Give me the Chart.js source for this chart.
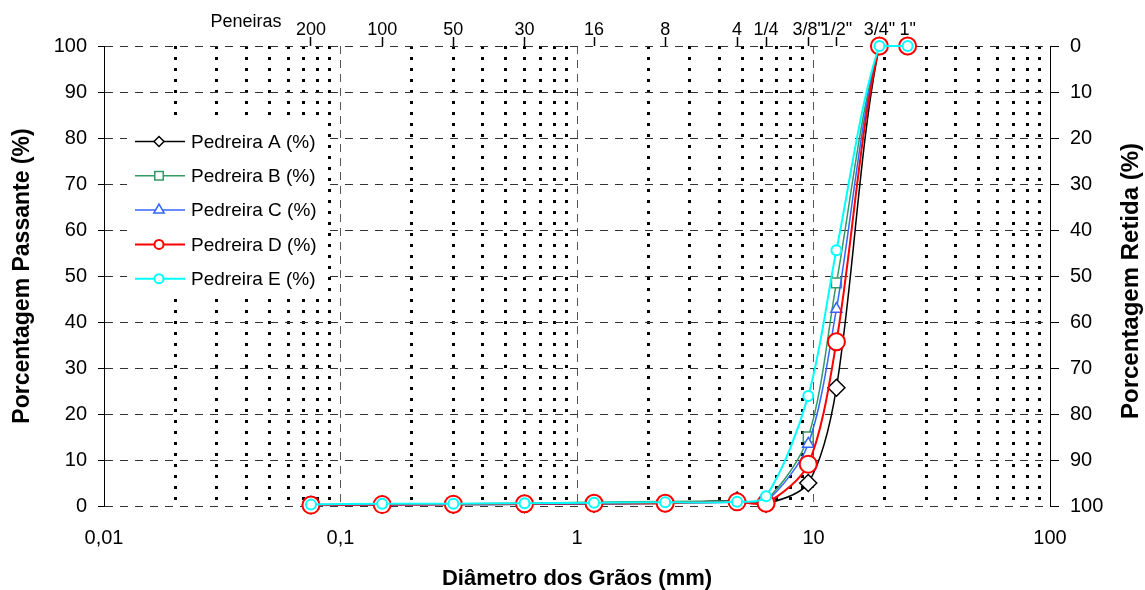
<!DOCTYPE html>
<html>
<head>
<meta charset="utf-8">
<title>Curva granulométrica</title>
<script src="https://cdn.jsdelivr.net/npm/chart.js@4.4.1/dist/chart.umd.min.js"></script>
<style>
  html, body { margin: 0; padding: 0; background: #fff; }
</style>
</head>
<body>
<canvas id="granChart" width="1145" height="590"></canvas>
<script>
// Peneiras (mm) e seus nomes
const sieveSizes = [0.075, 0.15, 0.3, 0.6, 1.18, 2.36, 4.75, 6.3, 9.5, 12.5, 19, 25];
const sieveLabels = ['200', '100', '50', '30', '16', '8', '4', '1/4', '3/8"', '1/2"', '3/4"', '1"'];

// eixo x (log)
const majorTicks = [0.01, 0.1, 1, 10, 100];
const majorLabels = ['0,01', '0,1', '1', '10', '100'];
const minorTicks = [0.02, 0.03, 0.04, 0.05, 0.06, 0.07, 0.08, 0.09,
                    0.2, 0.3, 0.4, 0.5, 0.6, 0.7, 0.8, 0.9,
                    2, 3, 4, 5, 6, 7, 8, 9,
                    20, 30, 40, 50, 60, 70, 80, 90];

// % passante
const pedreiraA = [0.2, 0.3, 0.3, 0.4, 0.5, 0.6, 1.2, 0.5, 5.0, 25.7, 100, 100];
const pedreiraB = [0.3, 0.4, 0.5, 0.6, 0.8, 1.0, 1.1, 1.3, 15.0, 48.5, 100, 100];
const pedreiraC = [0.1, 0.2, 0.3, 0.4, 0.5, 0.6, 0.8, 1.0, 13.5, 42.8, 100, 100];
const pedreiraD = [0.2, 0.3, 0.4, 0.5, 0.6, 0.6, 0.9, 0.6, 9.1, 35.7, 100, 100];
const pedreiraE = [0.3, 0.5, 0.5, 0.6, 0.7, 0.8, 0.9, 2.1, 23.9, 55.6, 100, 100];

const seriesNames = ['Pedreira A (%)', 'Pedreira B (%)', 'Pedreira C (%)', 'Pedreira D (%)', 'Pedreira E (%)'];

Chart.defaults.font.family = "'Liberation Sans', Arial, sans-serif";
Chart.defaults.color = '#000';

function serie(label, values, color, style, radius, width, order) {
  return {
    label: label,
    data: sieveSizes.map((x, i) => ({ x: x, y: values[i] })),
    borderColor: color,
    backgroundColor: '#fff',
    borderWidth: width,
    pointStyle: style,
    pointRadius: radius,
    pointHoverRadius: radius,
    pointBorderColor: color,
    pointBackgroundColor: '#fff',
    pointBorderWidth: width,
    tension: 0.3,
    clip: false,
    order: order,
    xAxisID: 'x',
    yAxisID: 'y'
  };
}

const datasets = [
  serie(seriesNames[0], pedreiraA, '#000000', 'rectRot', 8.5, 1.5, 5),
  serie(seriesNames[1], pedreiraB, '#339966', 'rect', 7, 1.5, 4),
  serie(seriesNames[2], pedreiraC, '#3366ff', 'triangle', 6.5, 1.5, 3),
  serie(seriesNames[3], pedreiraD, '#ff0000', 'circle', 8.5, 2, 2),
  serie(seriesNames[4], pedreiraE, '#00ffff', 'circle', 5, 2, 1)
];

// legenda, "Peneiras" e titulo do eixo da direita
const extraText = {
  id: 'extraText',
  afterDraw(chart) {
    const ctx = chart.ctx;
    ctx.save();

    // caixa branca da legenda (cobre a grade, como no Excel)
    ctx.fillStyle = '#fff';
    ctx.fillRect(127, 122, 201, 174);

    ctx.textBaseline = 'middle';
    const legendSizes = [5, 6, 6, 4.5, 4.5];
    datasets.forEach((ds, i) => {
      const y = 141.5 + i * 34.3;
      ctx.setLineDash([]);
      ctx.strokeStyle = ds.borderColor;
      ctx.lineWidth = ds.borderWidth;
      ctx.beginPath();
      ctx.moveTo(135, y);
      ctx.lineTo(185, y);
      ctx.stroke();
      ctx.fillStyle = '#fff';
      Chart.helpers.drawPoint(ctx, {
        pointStyle: ds.pointStyle, radius: legendSizes[i], rotation: 0, borderWidth: ds.borderWidth
      }, 159, y);
      ctx.fillStyle = '#000';
      ctx.font = "19px 'Liberation Sans', Arial, sans-serif";
      ctx.textAlign = 'left';
      ctx.fillText(ds.label, 191, y + 1);
    });

    // rotulo das peneiras
    ctx.font = "18px 'Liberation Sans', Arial, sans-serif";
    ctx.textAlign = 'center';
    ctx.fillText('Peneiras', 246, 22);

    // eixo secundario
    ctx.translate(1131, 281);
    ctx.rotate(-Math.PI / 2);
    ctx.font = "bold 24px 'Liberation Sans', Arial, sans-serif";
    ctx.fillText('Porcentagem Retida (%)', 0, 0);
    ctx.restore();
  }
};

new Chart(document.getElementById('granChart'), {
  type: 'line',
  data: { datasets: datasets },
  options: {
    responsive: false,
    animation: false,
    layout: { padding: 0 },
    plugins: {
      legend: { display: false },
      tooltip: { enabled: false }
    },
    scales: {
      x: {
        type: 'logarithmic',
        position: 'bottom',
        min: 0.01,
        max: 100,
        afterBuildTicks: (s) => { s.ticks = majorTicks.map(v => ({ value: v })); },
        afterFit: (s) => { s.height = 84; },
        ticks: {
          autoSkip: false,
          maxRotation: 0,
          padding: 20,
          font: { size: 20 },
          callback: (v, i) => majorLabels[i]
        },
        grid: { color: '#555', lineWidth: 1, drawTicks: false },
        border: { display: false, dash: [8, 6] },
        title: {
          display: true,
          text: 'Diâmetro dos Grãos (mm)',
          font: { size: 22, weight: 'bold', lineHeight: 1 },
          padding: 0
        }
      },
      xMinor: {
        type: 'logarithmic',
        position: 'bottom',
        min: 0.01,
        max: 100,
        afterBuildTicks: (s) => { s.ticks = minorTicks.map(v => ({ value: v })); },
        afterFit: (s) => { s.height = 0; },
        ticks: { display: false },
        grid: { color: '#000', lineWidth: 3, drawTicks: false },
        border: { display: false, dash: [3, 8] }
      },
      xTop: {
        type: 'logarithmic',
        position: 'top',
        min: 0.01,
        max: 100,
        afterBuildTicks: (s) => { s.ticks = sieveSizes.map(v => ({ value: v })); },
        afterFit: (s) => { s.height = 46; },
        ticks: {
          autoSkip: false,
          maxRotation: 0,
          minRotation: 0,
          padding: -4,
          font: { size: 18 },
          callback: (v, i) => sieveLabels[i]
        },
        grid: { drawOnChartArea: false, tickLength: 9, tickColor: '#000', tickWidth: 1.5 },
        border: { display: false }
      },
      y: {
        position: 'left',
        min: 0,
        max: 100,
        afterFit: (s) => { s.width = 104; },
        ticks: { stepSize: 10, padding: 11, font: { size: 20 } },
        grid: { color: '#333', lineWidth: 1, tickLength: 6, tickColor: '#000', tickBorderDash: [] },
        border: { display: true, color: '#000', width: 1, dash: [8, 7] },
        title: {
          display: true,
          text: 'Porcentagem Passante (%)',
          font: { size: 23, weight: 'bold', lineHeight: 1.2 },
          padding: { top: 9, bottom: 0 }
        }
      },
      y2: {
        position: 'right',
        min: 0,
        max: 100,
        reverse: true,
        afterFit: (s) => { s.width = 95; },
        ticks: { stepSize: 10, padding: 11, font: { size: 20 } },
        grid: { drawOnChartArea: false, tickLength: 9, tickColor: '#000' },
        border: { display: true, color: '#000', width: 1 }
      }
    }
  },
  plugins: [extraText]
});
</script>
</body>
</html>
